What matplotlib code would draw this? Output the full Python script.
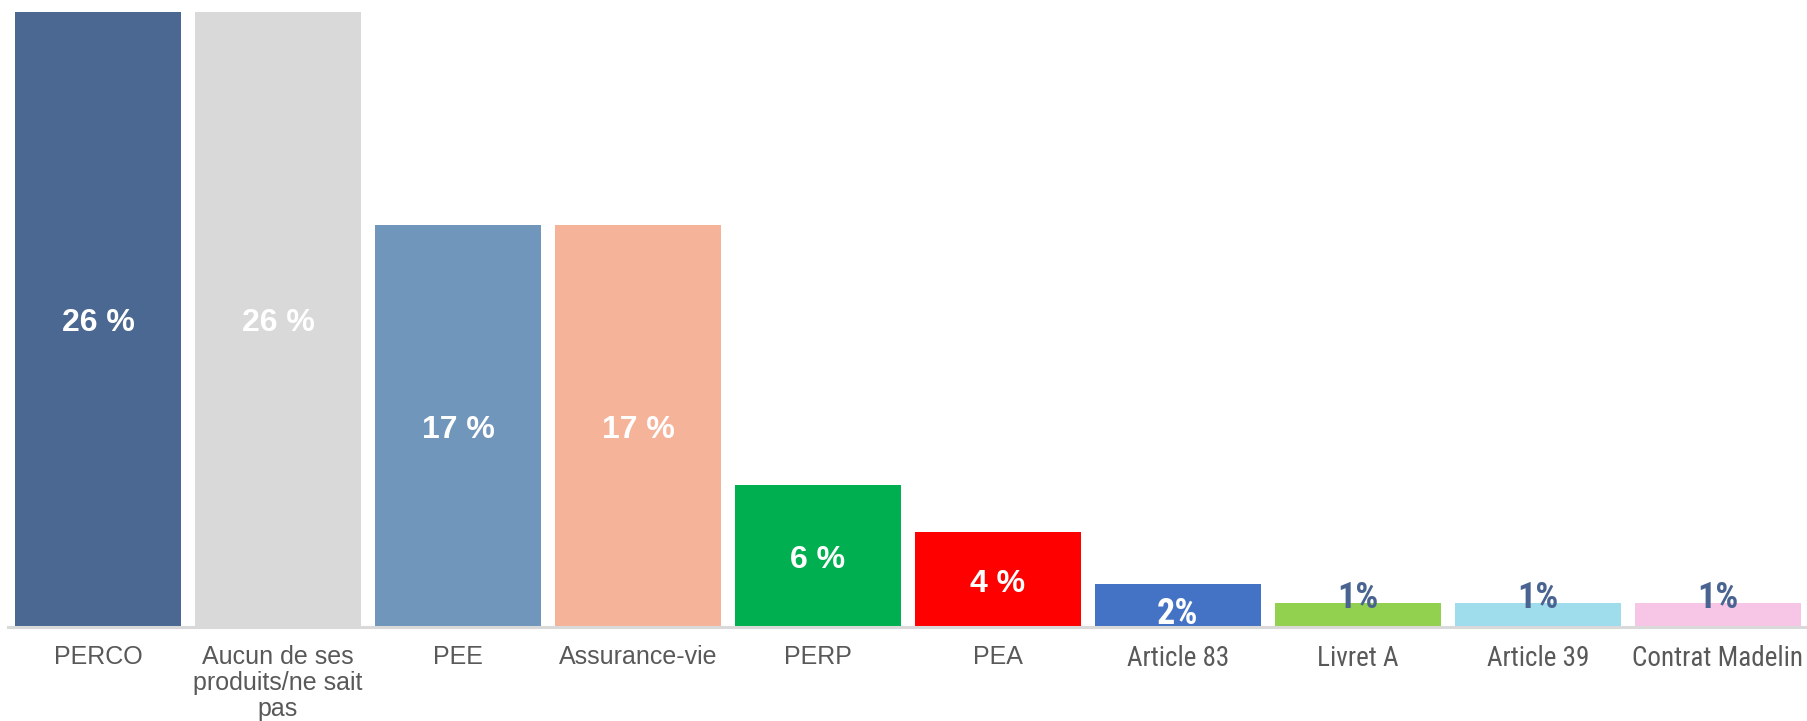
import matplotlib
matplotlib.use("Agg")
import matplotlib.pyplot as plt
from matplotlib import font_manager
from matplotlib.font_manager import FontProperties

categories = ["PERCO", "Aucun de ses\nproduits/ne sait\npas", "PEE", "Assurance-vie",
              "PERP", "PEA", "Article 83", "Livret A", "Article 39", "Contrat Madelin"]
values = [26, 26, 17, 17, 6, 4, 1.8, 1, 1, 1]
value_labels = ["26 %", "26 %", "17 %", "17 %", "6 %", "4 %", "2%", "1%", "1%", "1%"]

bar_colors = ["#4B6892", "#D9D9D9", "#7096BB", "#F5B39A", "#00B050",
              "#FF0000", "#4472C4", "#92D050", "#9FDCEC", "#F7C6E7"]


def find_narrow(bold):
    prefs = ["Liberation Sans Narrow", "Arial Narrow", "Roboto Condensed",
             "Open Sans Condensed", "Noto Sans Condensed", "DejaVu Sans"]
    cands = []
    for f in font_manager.fontManager.ttflist:
        nm = f.name
        st = str(f.stretch).lower()
        fn = f.fname.lower()
        isnarrow = ("narrow" in nm.lower() or "condensed" in nm.lower()
                    or st in ("condensed", "semi-condensed", "extra-condensed")
                    or "condensed" in fn or "narrow" in fn)
        if not isnarrow:
            continue
        if "mono" in nm.lower() or "serif" in nm.lower() or "oblique" in fn or "italic" in fn:
            continue
        w = f.weight if isinstance(f.weight, int) else (700 if "bold" in str(f.weight) else 400)
        wscore = abs(w - (700 if bold else 400))
        try:
            p = prefs.index(nm)
        except ValueError:
            p = len(prefs)
        cands.append((p, wscore, f.fname))
    if not cands:
        return None
    cands.sort()
    return cands[0][2]


narrow_reg = find_narrow(False)
narrow_bold = find_narrow(True)
regular = "Liberation Sans"


def narrow_props(bold, size):
    path = narrow_bold if bold else narrow_reg
    if path is None:
        return FontProperties(family=regular, weight="bold" if bold else "normal",
                              size=size * 0.85)
    return FontProperties(fname=path, size=size)


fig = plt.figure(figsize=(18.07, 7.21), dpi=100)
ax = fig.add_axes([8 / 1807, 1 - 627 / 721, 1800 / 1807, (627 - 11.5) / 721])

x = list(range(len(categories)))
ax.bar(x, values, width=0.92, color=bar_colors, zorder=2)
ax.set_xlim(-0.5, len(categories) - 0.5)
ax.set_ylim(0, 26)

for s in ["top", "right", "left"]:
    ax.spines[s].set_visible(False)
ax.spines["bottom"].set_color("#D9D9D9")
ax.spines["bottom"].set_linewidth(2.2)
ax.spines["bottom"].set_zorder(3)
ax.set_yticks([])
ax.set_xticks(x)
ax.set_xticklabels(categories, fontsize=18, color="#595959", linespacing=1.1,
                   family=regular)
ax.tick_params(axis="x", length=0, pad=13)
for i, lab in enumerate(ax.get_xticklabels()):
    if i >= 6:
        lab.set_fontproperties(narrow_props(False, 19.5))

# value labels
label_colors = ["white"] * 7 + ["#4A6491"] * 3
for i, (v, t) in enumerate(zip(values, value_labels)):
    if i < 6:
        ax.annotate(t, (i, v / 2), xytext=(0, -3), textcoords="offset points",
                    ha="center", va="center", fontsize=23,
                    fontweight="bold", color=label_colors[i], family=regular, zorder=4)
    elif i == 6:
        ax.annotate(t, (i, v), xytext=(0, -21), textcoords="offset points",
                    ha="center", va="center", color=label_colors[i],
                    fontproperties=narrow_props(True, 26), zorder=4)
    else:
        ax.annotate(t, (i, v), xytext=(0, 4), textcoords="offset points",
                    ha="center", va="center", color=label_colors[i],
                    fontproperties=narrow_props(True, 26), zorder=4)

fig.savefig("out.png", dpi=100, facecolor="white")
